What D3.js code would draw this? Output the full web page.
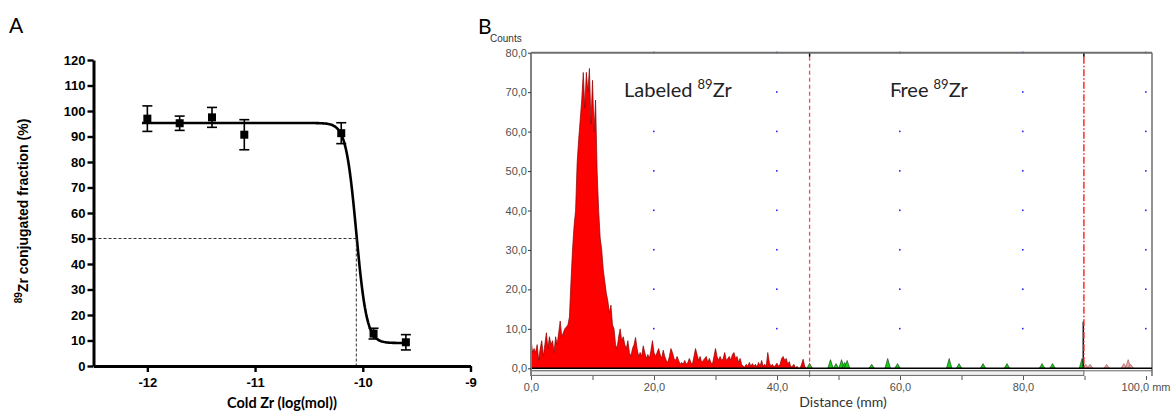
<!DOCTYPE html>
<html>
<head>
<meta charset="utf-8">
<script src="https://cdn.jsdelivr.net/npm/d3@7"></script>
<style>
  body { margin: 0; background: #fff; }
  .tickA text { font-family: "Liberation Sans", Arial, sans-serif; font-weight: bold; font-size: 13px; fill: #000; }
  .tickB text { font-family: "Liberation Sans", Arial, sans-serif; font-size: 11px; fill: #505050; }
</style>
</head>
<body>
<div id="chart"></div>
<script>
// ---- Panel A: competition curve ----
const doseLog = [-12, -11.7, -11.4, -11.1, -10.2, -9.9, -9.6];
const fracMean = [97.0, 95.2, 97.5, 90.7, 91.3, 12.7, 9.3];
const fracErr = [5.0, 2.8, 3.9, 5.9, 4.1, 2.1, 3.0];
const fitTop = 95.3, fitBottom = 9.0, fitLogIC50 = -10.06, fitHill = 9;
const xTicksA = [-12, -11, -10, -9];
const yTicksA = d3.range(0, 121, 10);

// ---- Panel B: radio-TLC scan ----
const binWidth = 0.25; // mm
const labeledCounts = [
  7.5, 4, 5, 4, 6, 2, 5, 7, 3, 6, 9, 5, 8, 6, 7, 4, 8, 6, 9, 12,            // 0-5 mm
  8, 9, 10, 10.5, 11, 13, 22, 30, 36, 40, 52, 58, 63, 68, 75, 66, 75, 70, 76, 62, // 5-10
  73, 60, 68, 50, 40, 33, 30, 25, 22, 19, 17, 14, 16, 11, 10, 6, 5, 8, 10, 7, // 10-15
  8, 6, 5, 7, 4, 3, 5, 6, 7.8, 5, 3, 4, 3, 5.7, 4, 2.5, 3.5, 2.5, 4.5, 7,   // 15-20
  4, 3, 4, 5, 3.5, 2.5, 4.6, 3, 2, 1.5, 3, 5, 4, 2.5, 2, 3, 2, 1, 1.5, 1,   // 20-25
  2, 1, 1.5, 2.5, 1.5, 1, 3, 5, 3.5, 2, 3, 1.5, 2, 2.5, 3, 1.5, 2.5, 1.5, 1, 3, // 25-30
  5, 3, 2, 3, 2, 2.5, 4, 2, 2.5, 3, 2, 3.5, 4, 2.5, 3, 1.5, 2.5, 1, 0.5, 0.3, // 30-35
  1, 0.5, 1.5, 0.5, 1.2, 0.5, 1, 0.3, 1.5, 0.5, 2, 0.5, 1, 0.5, 4, 1.5, 0.5, 1, 0.3, 0.8, // 35-40
  1.3, 0.5, 1, 2.5, 3, 2, 2.5, 1, 1.7, 0.3, 0.5, 1, 0, 0.5, 0, 0, 1, 2.3, 0.5, 0 // 40-45
];
const freePeakPos = [45.3, 48.7, 49.6, 50.5, 51.0, 51.4, 55.4, 58.0, 59.6, 68.0, 69.6, 73.5, 77.4, 83.1, 84.8, 89.6];
const freePeakCounts = [1.3, 2.2, 1.2, 2.2, 1.5, 2.0, 1.0, 2.5, 1.2, 2.5, 1.2, 1.2, 1.2, 1.2, 1.2, 2.5];
const frontPeakPos = [90.2, 90.9, 93.6, 96.4, 97.1, 97.5];
const frontPeakCounts = [1.0, 1.0, 1.0, 1.2, 2.2, 1.0];
const spikePos = [89.8];
const spikeCounts = [11.8];
const regionBounds = [45.3, 89.9];
const xTicksB = d3.range(0, 101, 10);
const yTicksB = d3.range(0, 81, 10);
const gridX = [20, 40, 60, 80, 100];
const gridY = d3.range(10, 81, 10);

const W = 1173, H = 414;
const svg = d3.select("#chart").append("svg").attr("width", W).attr("height", H)
  .style("font-family", "Lato, sans-serif");

// ===================== Panel A =====================
const xA = d3.scaleLinear().domain([-12.5, -9]).range([93.5, 470.5]);
const yA = d3.scaleLinear().domain([0, 120]).range([366, 60]);

svg.append("text").attr("x", 9).attr("y", 33).style("font-size", "21px").text("A");

// fitted 4PL curve
const fit = x => fitBottom + (fitTop - fitBottom) / (1 + Math.pow(10, (x - fitLogIC50) * fitHill));
const curveX = d3.range(-12.05, -9.6, 0.01);
svg.append("path")
  .datum(curveX)
  .attr("d", d3.line().x(d => xA(d)).y(d => yA(fit(d))))
  .attr("fill", "none").attr("stroke", "#000").attr("stroke-width", 2.6);

// IC50 guide lines
const g50 = svg.append("g").attr("stroke", "#333").attr("stroke-width", 1).attr("stroke-dasharray", "3,2");
g50.append("line").attr("x1", xA(-12.5)).attr("x2", xA(fitLogIC50)).attr("y1", yA(50)).attr("y2", yA(50));
g50.append("line").attr("x1", xA(fitLogIC50)).attr("x2", xA(fitLogIC50)).attr("y1", yA(50)).attr("y2", yA(0));

// error bars and markers
const pts = doseLog.map((d, i) => ({ x: d, y: fracMean[i], e: fracErr[i] }));
const eb = svg.append("g").attr("stroke", "#000").attr("stroke-width", 1.6);
pts.forEach(p => {
  eb.append("line").attr("x1", xA(p.x)).attr("x2", xA(p.x)).attr("y1", yA(p.y - p.e)).attr("y2", yA(p.y + p.e));
  [p.y - p.e, p.y + p.e].forEach(v => {
    eb.append("line").attr("x1", xA(p.x) - 5).attr("x2", xA(p.x) + 5).attr("y1", yA(v)).attr("y2", yA(v));
  });
});
svg.append("g").selectAll("rect").data(pts).join("rect")
  .attr("x", d => xA(d.x) - 4).attr("y", d => yA(d.y) - 4)
  .attr("width", 8).attr("height", 8).attr("fill", "#000");

// axes
const axA = svg.append("g").attr("class", "tickA").attr("transform", `translate(0,${yA(0)})`)
  .call(d3.axisBottom(xA).tickValues(xTicksA).tickSize(6).tickSizeOuter(0).tickPadding(6));
const ayA = svg.append("g").attr("class", "tickA").attr("transform", `translate(${xA(-12.5)},0)`)
  .call(d3.axisLeft(yA).tickValues(yTicksA).tickSize(6).tickSizeOuter(0).tickPadding(2));
[axA, ayA].forEach(a => {
  a.select(".domain").attr("stroke-width", 3);
  a.selectAll(".tick line").attr("stroke-width", 2.4);
});
axA.selectAll(".tick text").text(d => String(d));

svg.append("text").attr("x", 282).attr("y", 408).attr("text-anchor", "middle")
  .style("font-size", "14.5px").style("font-weight", "bold").text("Cold Zr (log(mol))");

const yl = svg.append("text").attr("transform", "translate(28,211) rotate(-90)")
  .attr("text-anchor", "middle")
  .style("font-family", "'Liberation Sans', Arial, sans-serif")
  .style("font-size", "14px").style("font-weight", "bold");
yl.append("tspan").attr("dy", -6).style("font-size", "10px").text("89");
yl.append("tspan").attr("dy", 6).text("Zr conjugated fraction (%)");

// ===================== Panel B =====================
const xB = d3.scaleLinear().domain([0, 100]).range([531, 1146]);
const yB = d3.scaleLinear().domain([0, 80]).range([368.3, 52.7]);
const rightEdge = 1152;

svg.append("text").attr("x", 478).attr("y", 34).style("font-size", "21px").text("B");
svg.append("text").attr("x", 490).attr("y", 42)
  .style("font-family", "'Liberation Sans', Arial, sans-serif").style("font-size", "10px").attr("fill", "#333").text("Counts");

// grid dots
const dots = [];
gridX.forEach(x => gridY.forEach(y => dots.push([x, y])));
svg.append("g").selectAll("rect").data(dots).join("rect")
  .attr("x", d => xB(d[0]) - 1).attr("y", d => yB(d[1]) - 1)
  .attr("width", 1.6).attr("height", 1.6).attr("fill", "#2a2aff");

// labeled peak histogram
svg.append("path")
  .datum(labeledCounts)
  .attr("d", d3.area().x((d, i) => xB(i * binWidth)).y0(yB(0)).y1(d => yB(d)))
  .attr("fill", "#ff0000").attr("stroke", "#8b0000").attr("stroke-width", 0.7);

// small peaks
function tri(pos, h) {
  return d3.area().x(d => xB(d[0])).y0(yB(0)).y1(d => yB(d[1]))([[pos - 0.45, 0], [pos, h], [pos + 0.45, 0]]);
}
svg.append("g").selectAll("path").data(freePeakPos).join("path")
  .attr("d", (d, i) => tri(d, freePeakCounts[i]))
  .attr("fill", "#14d214").attr("stroke", "#111").attr("stroke-width", 0.5);
svg.append("g").selectAll("path").data(frontPeakPos).join("path")
  .attr("d", (d, i) => tri(d, frontPeakCounts[i]))
  .attr("fill", "#e8a8a8").attr("stroke", "#b06060").attr("stroke-width", 0.7);
svg.append("g").selectAll("line").data(spikePos).join("line")
  .attr("x1", d => xB(d)).attr("x2", d => xB(d))
  .attr("y1", yB(0)).attr("y2", (d, i) => yB(spikeCounts[i]))
  .attr("stroke", "#000").attr("stroke-width", 1.4);

// region boundaries
svg.append("line").attr("x1", xB(regionBounds[0])).attr("x2", xB(regionBounds[0]))
  .attr("y1", yB(80) + 4).attr("y2", yB(0))
  .attr("stroke", "#ff4a4a").attr("stroke-width", 1.3).attr("stroke-dasharray", "4,3");
svg.append("line").attr("x1", xB(regionBounds[1])).attr("x2", xB(regionBounds[1]))
  .attr("y1", yB(80) + 4).attr("y2", yB(0))
  .attr("stroke", "#ff1a1a").attr("stroke-width", 1.4).attr("stroke-dasharray", "7,2,1.5,2");
regionBounds.forEach(b => {
  svg.append("line").attr("x1", xB(b)).attr("x2", xB(b)).attr("y1", yB(80)).attr("y2", yB(80) + 4)
    .attr("stroke", "#000").attr("stroke-width", 1.5);
});

// frame
svg.append("line").attr("x1", xB(0)).attr("x2", rightEdge).attr("y1", yB(80)).attr("y2", yB(80))
  .attr("stroke", "#6e6e6e").attr("stroke-width", 2);
svg.append("line").attr("x1", rightEdge).attr("x2", rightEdge).attr("y1", yB(80)).attr("y2", 376)
  .attr("stroke", "#6e6e6e").attr("stroke-width", 1.5);
svg.append("line").attr("x1", xB(0)).attr("x2", rightEdge).attr("y1", yB(0)).attr("y2", yB(0))
  .attr("stroke", "#000").attr("stroke-width", 1.5);
svg.append("line").attr("x1", xB(0)).attr("x2", rightEdge).attr("y1", 370.8).attr("y2", 370.8)
  .attr("stroke", "#666").attr("stroke-width", 1);
svg.append("rect").attr("x", xB(0)).attr("y", 370.8).attr("width", xB(regionBounds[1]) - xB(0)).attr("height", 4.6)
  .attr("fill", "#f2f2f2").attr("stroke", "#666").attr("stroke-width", 1);
svg.append("line").attr("x1", xB(regionBounds[0])).attr("x2", xB(regionBounds[0])).attr("y1", 370.8).attr("y2", 377)
  .attr("stroke", "#666").attr("stroke-width", 1);

// axes
const fmtB = d => d.toFixed(1).replace(".", ",");
const axB = svg.append("g").attr("class", "tickB").attr("transform", "translate(0,376)")
  .call(d3.axisBottom(xB).tickValues(xTicksB).tickSize(4).tickSizeOuter(0).tickPadding(3)
    .tickFormat(d => d % 20 === 0 ? fmtB(d) : ""));
axB.select(".domain").remove();
axB.selectAll(".tick line").attr("stroke", "#555");
axB.selectAll(".tick text").filter(d => d === 100).attr("text-anchor", "end").attr("dx", 24).text(d => fmtB(d) + " mm");

const ayB = svg.append("g").attr("class", "tickB").attr("transform", `translate(${xB(0)},0)`)
  .call(d3.axisLeft(yB).tickValues(yTicksB).tickSize(3).tickSizeOuter(0).tickPadding(1).tickFormat(fmtB));
ayB.select(".domain").attr("stroke", "#808080").attr("stroke-width", 2).attr("d", `M0,${yB(80)}V376`);
ayB.selectAll(".tick line").attr("stroke", "#334");

svg.append("text").attr("x", 843).attr("y", 407).attr("text-anchor", "middle")
  .style("font-size", "14px").attr("fill", "#333").text("Distance (mm)");

// region labels
function isoLabel(x, y, word) {
  const t = svg.append("text").attr("x", x).attr("y", y).style("font-size", "20px").attr("fill", "#222");
  t.append("tspan").text(word + " ");
  t.append("tspan").attr("dy", -8).style("font-size", "13px").text("89");
  t.append("tspan").attr("dy", 8).text("Zr");
}
isoLabel(624, 97, "Labeled");
isoLabel(890, 97, "Free");
</script>
</body>
</html>
